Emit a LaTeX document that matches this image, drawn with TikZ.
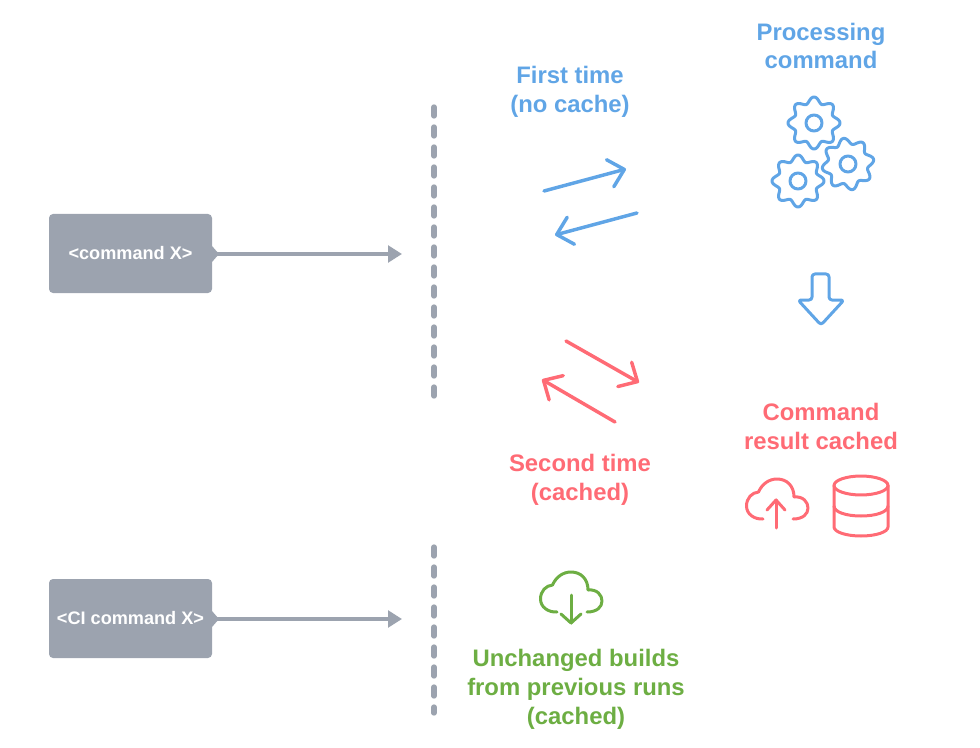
\documentclass[tikz,border=0pt]{standalone}
\usepackage{fontspec}
\setmainfont{Liberation Sans}
\usetikzlibrary{arrows.meta}
\definecolor{cblue}{HTML}{60A5E6}
\definecolor{cred}{HTML}{FF6B75}
\definecolor{cgreen}{HTML}{6DAE43}
\definecolor{cgray}{HTML}{9CA3AF}
\tikzset{
  cmdbox/.style={fill=cgray, rounded corners=3pt, minimum width=122.25pt, minimum height=59.25pt,
    inner sep=0pt, text=white, font=\fontsize{13.6}{15}\selectfont\bfseries},
  caption/.style={align=center, inner sep=0pt, font=\fontsize{17.9}{21.7}\selectfont\bfseries},
  cmdarrow/.style={draw=cgray, line width=2.5pt, -{Triangle[length=10.5pt,width=12.5pt]}},
  divider/.style={draw=cgray, line width=4pt, line cap=round, dash pattern=on 6.75pt off 8.25pt},
  swaparrow/.style={line width=2.6pt, line cap=round, -{Straight Barb[length=11pt,width=21pt,round]}},
  icon/.style={line width=2.25pt, line cap=round, line join=round}
}
% cloud outline around the middle of its arrow
\newcommand{\cloudline}[3]{
  \draw[icon, #3, shift={(#1,#2)}] (-14,13) .. controls (-23,13.5) and (-30.5,8) .. (-30.5,0)
    .. controls (-30.5,-8) and (-25,-13.5) .. (-18.5,-14)
    .. controls (-15,-22) and (-8,-27) .. (0,-27)
    .. controls (10,-27) and (17,-20) .. (17,-9)
    .. controls (26,-10) and (31,-4) .. (31,2)
    .. controls (31,8) and (26,13) .. (16,13);
}
\begin{document}
\begin{tikzpicture}[x=0.75pt, y=-0.75pt]
\useasboundingbox (0,0) rectangle (980,748);
% commands
\node[cmdbox] (cmd) at (130.5,253.5) {\raisebox{-1.4pt}{<command X>}};
\node[cmdbox] (cicmd) at (130.5,618.5) {\raisebox{-1.4pt}{<CI command X>}};
\coordinate (cmdtip) at (402,254);
\coordinate (cicmdtip) at (402,619);
\fill[cgray] (212,246) -- (219,254) -- (212,262) -- cycle;
\fill[cgray] (212,611) -- (219,619) -- (212,627) -- cycle;
\draw[cmdarrow] (cmd.east |- cmdtip) -- (cmdtip);
\draw[cmdarrow] (cicmd.east |- cicmdtip) -- (cicmdtip);
% dividers
\coordinate (divtop) at (434,107);
\coordinate (divbot) at (434,397);
\coordinate (cidivtop) at (434,547);
\coordinate (cidivbot) at (434,713);
\draw[divider] (divtop) -- (divbot);
\draw[divider] (cidivtop) -- (cidivbot);
% first time
\node[caption, text=cblue] (first) at (570,92) {First time\\(no cache)};
\node[caption, text=cblue] (processing) at (821,46) {Processing\\command};
\coordinate (fsta) at (544,191);
\coordinate (fend) at (626,169);
\coordinate (bsta) at (637,213);
\coordinate (bend) at (555,235);
\draw[swaparrow, cblue] (fsta) -- (fend);
\draw[swaparrow, cblue] (bsta) -- (bend);
% gears
\foreach \cx/\cy/\rot in {814/123/0, 848/164/-10, 798/181/0} {
  \draw[icon, cblue, shift={(\cx,\cy)}] plot[domain=0:360, samples=145, smooth]
    ({(23+3*cos(8*(\x-\rot)))*cos(\x)}, {(23+3*cos(8*(\x-\rot)))*sin(\x)}) -- cycle;
  \draw[icon, cblue] (\cx,\cy) circle (6pt);
}
% big arrow
\draw[icon, cblue, rounded corners=2.2pt] (812,274) -- (829,274) -- (829,300) -- (844,300)
  -- (821,325) -- (798,300) -- (812,300) -- cycle;
% second time
\node[caption, text=cred] (second) at (580,480) {Second time\\(cached)};
\node[caption, text=cred] (result) at (821,426.5) {Command\\result cached};
\coordinate (ssta) at (566,341);
\coordinate (send) at (639,382.5);
\coordinate (rsta) at (615,422);
\coordinate (rend) at (542,379.5);
\draw[swaparrow, cred] (ssta) -- (send);
\draw[swaparrow, cred] (rsta) -- (rend);
% upload and database
\cloudline{777}{506}{cred}
\draw[icon, cred] (776,528) -- (776,500);
\draw[icon, cred] (767,510) -- (776,500) -- (785,510);
\draw[icon, cred] (861,485.5) ellipse (20.25pt and 7.1pt);
\draw[icon, cred] (834,485.5) -- (834,527) .. controls (834,532) and (846,536) .. (861,536)
  .. controls (876,536) and (888,532) .. (888,527) -- (888,485.5);
\draw[icon, cred] (834,506) .. controls (834,512) and (846,516) .. (861,516)
  .. controls (876,516) and (888,512) .. (888,506);
% unchanged builds
\cloudline{571}{599}{cgreen}
\draw[icon, cgreen] (571,595) -- (571,623);
\draw[icon, cgreen] (561,614) -- (571,623) -- (581,614);
\node[caption, text=cgreen] (unchanged) at (576,689) {Unchanged builds\\from previous runs\\(cached)};
\end{tikzpicture}
\end{document}
